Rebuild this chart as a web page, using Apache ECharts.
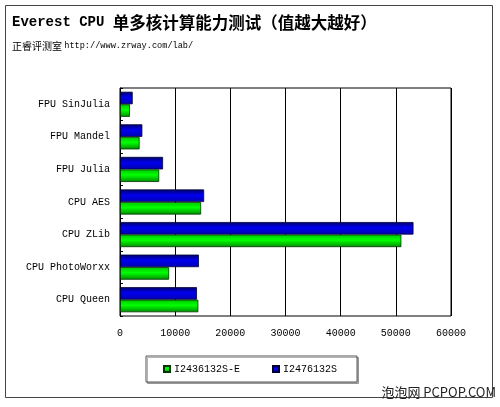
<!DOCTYPE html>
<html><head><meta charset="utf-8">
<script src="https://cdn.jsdelivr.net/npm/echarts@6/dist/echarts.min.js"></script>
<style>html,body{margin:0;padding:0;background:#fff}#c{width:500px;height:407px}</style>
</head><body><div id="c"></div>
<script>
var categories = ['CPU Queen','CPU PhotoWorxx','CPU ZLib','CPU AES','FPU Julia','FPU Mandel','FPU SinJulia'];
var seriesNames = ['I2436132S-E','I2476132S'];
var valuesE = [14200, 8900, 51000, 14700, 7100, 3550, 1800];
var valuesS = [13950, 14300, 53200, 15250, 7800, 4050, 2300];
var xTicks = [0, 10000, 20000, 30000, 40000, 50000, 60000];

var mono = '"Liberation Mono","DejaVu Sans Mono",monospace';
var cjk = '"Noto Sans CJK SC","Noto Sans",sans-serif';
function grad(stops){
  return new echarts.graphic.LinearGradient(0,0,0,1,stops.map(function(s){return {offset:s[0],color:s[1]};}));
}
var greenGrad = grad([[0,'#00c800'],[0.45,'#00ff00'],[1,'#008a00']]);
var blueGrad = grad([[0,'#000068'],[0.45,'#0000f0'],[1,'#0000b0']]);

var chart = echarts.init(document.getElementById('c'));
chart.setOption({
  animation:false,
  backgroundColor:'#fff',
  grid:{left:120,right:49,top:88,bottom:91,show:true,borderColor:'#000',borderWidth:1,containLabel:false},
  xAxis:{type:'value',min:xTicks[0],max:xTicks[xTicks.length-1],interval:10000,
    axisLine:{show:false},axisTick:{show:false},
    splitLine:{show:true,lineStyle:{color:'#000',width:1}},
    axisLabel:{color:'#000',fontFamily:mono,fontSize:10,margin:12,formatter:function(v){return String(v);}}},
  yAxis:{type:'category',data:categories,
    axisLine:{show:true,lineStyle:{color:'#000'}},
    axisTick:{show:true,inside:true,length:3,lineStyle:{color:'#000'}},
    axisLabel:{color:'#000',fontFamily:mono,fontSize:10,margin:10}},
  legend:{left:146,top:356,data:seriesNames,itemWidth:6,itemHeight:6,itemGap:32,
    padding:[8,20,8,17],borderColor:'#555',borderWidth:1,backgroundColor:'#fff',
    shadowColor:'rgba(0,0,0,0.3)',shadowOffsetX:1.5,shadowOffsetY:1.5,shadowBlur:0,
    textStyle:{fontFamily:mono,fontSize:10,color:'#000',padding:[0,0,0,-1]},
    icon:'rect'},
  series:[
    {name:seriesNames[1],type:'bar',data:valuesS,barGap:'0%',barCategoryGap:'23%',
      itemStyle:{color:blueGrad,borderColor:'#000033',borderWidth:0.8}},
    {name:seriesNames[0],type:'bar',data:valuesE,barGap:'0%',barCategoryGap:'23%',
      itemStyle:{color:greenGrad,borderColor:'#003300',borderWidth:0.8}}
  ],
  graphic:[
    {type:'rect',shape:{x:5.5,y:5.5,width:487,height:392},style:{fill:null,stroke:'#444',lineWidth:1},z:-1},
    {type:'text',left:12,top:14,style:{
      text:'{a|Everest CPU }{b|单多核计算能力测试（值越大越好）}',
      rich:{a:{fontFamily:mono,fontSize:14,fontWeight:'bold',fill:'#000'},
            b:{fontFamily:cjk,fontSize:16.5,fontWeight:'bold',fill:'#000'}}}},
    {type:'text',left:12,top:41,style:{
      text:'{a|正睿评测室 }{b|http://www.zrway.com/lab/}',
      rich:{a:{fontFamily:cjk,fontSize:10,fill:'#000'},
            b:{fontFamily:mono,fontSize:8.6,fill:'#000'}}}},
    {type:'text',right:4,top:386,style:{text:'泡泡网 PCPOP.COM',fontFamily:cjk,fontSize:13,fill:'#222'}}
  ]
});
</script></body></html>
